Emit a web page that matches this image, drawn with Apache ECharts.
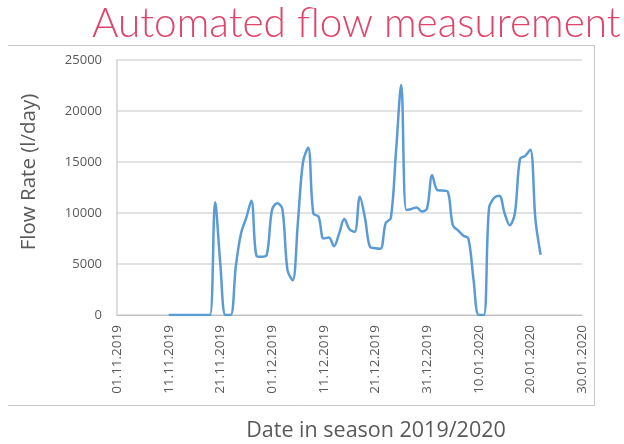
<!DOCTYPE html>
<html>
<head>
<meta charset="utf-8">
<script src="https://cdn.jsdelivr.net/npm/echarts@6/dist/echarts.min.js"></script>
<style>
html,body{margin:0;padding:0;background:#fff;}
#chart{width:624px;height:444px;}
</style>
</head>
<body>
<div id="chart"></div>
<script>
// data: one value per day, starting at firstDay
var axisStart = [2019, 10, 1];      // 01.11.2019 (month 0-based)
var firstDay = 10;                  // 11.11.2019 = day 10 after axis start
var flow = [
	0,0,0,0,0,0,0,0,0,
	11050,5000,0,0,4800,8000,9500,11200,5800,5700,5900,
	10300,10950,10400,4400,3400,9000,15000,16400,9950,9650,
	7500,7600,6750,8000,9400,8400,8150,11600,9500,6650,
	6550,6500,9000,9500,16000,22550,10300,10400,10550,10150,
	10450,13700,12250,12200,12100,8800,8300,7800,7500,3500,
	0,0,10450,11500,11700,10000,8800,9950,15300,15600,
	16200,9300,5900
];
var yTicks = [0,5000,10000,15000,20000,25000];

var points = [];
for(var i=0;i<flow.length;i++){
	points.push([firstDay+i, flow[i]]);
}

function dayLabel(v){
	var d = new Date(axisStart[0], axisStart[1], axisStart[2]+v);
	var dd = ('0'+d.getDate()).slice(-2);
	var mm = ('0'+(d.getMonth()+1)).slice(-2);
	return dd+'.'+mm+'.'+d.getFullYear();
}

var myChart = echarts.init(document.getElementById('chart'));
var option = {
	animation:false,
	backgroundColor:'#fff',
	grid:{left:117,right:42,top:60,bottom:129},
	xAxis:{
		type:'value',min:0,max:90,interval:10,
		axisLine:{show:true,lineStyle:{color:'#bfbfbf',width:1}},
		axisTick:{show:false},
		splitLine:{show:false},
		axisLabel:{rotate:90,margin:10,color:'#595959',fontSize:13.5,fontFamily:'Open Sans',formatter:dayLabel}
	},
	yAxis:{
		type:'value',min:yTicks[0],max:yTicks[yTicks.length-1],interval:5000,
		axisLine:{show:true,lineStyle:{color:'#d0d0d0',width:1.5}},
		axisTick:{show:false},
		splitLine:{show:true,lineStyle:{color:'#d9d9d9',width:1.5}},
		axisLabel:{margin:15,color:'#595959',fontSize:13,fontFamily:'Open Sans',formatter:function(v){return String(v);}}
	},
	series:[{
		type:'line',
		data:points,
		smooth:0.35,
		showSymbol:false,
		clip:true,
		lineStyle:{color:'#5b9bd5',width:2.5}
	}],
	graphic:[
		{type:'text',left:92,top:3,style:{text:'Automated flow measurement',fill:'#e0446b',font:'300 40.5px Lato'}},
		{type:'line',shape:{x1:8,y1:45.5,x2:594.5,y2:45.5},style:{stroke:'#c8c8c8',lineWidth:1}},
		{type:'line',shape:{x1:594.5,y1:45,x2:594.5,y2:405.5},style:{stroke:'#c8c8c8',lineWidth:1}},
		{type:'line',shape:{x1:8,y1:405.5,x2:594.5,y2:405.5},style:{stroke:'#c8c8c8',lineWidth:1}},
		{type:'text',x:29,y:172,rotation:Math.PI/2,style:{text:'Flow Rate (l/day)',fill:'#595959',font:'20.5px "Open Sans"',textAlign:'center',textVerticalAlign:'middle'}},
		{type:'text',x:376,y:431,style:{text:'Date in season 2019/2020',fill:'#595959',font:'21.5px "Open Sans"',textAlign:'center',textVerticalAlign:'middle'}}
	]
};
myChart.setOption(option);
</script>
</body>
</html>
